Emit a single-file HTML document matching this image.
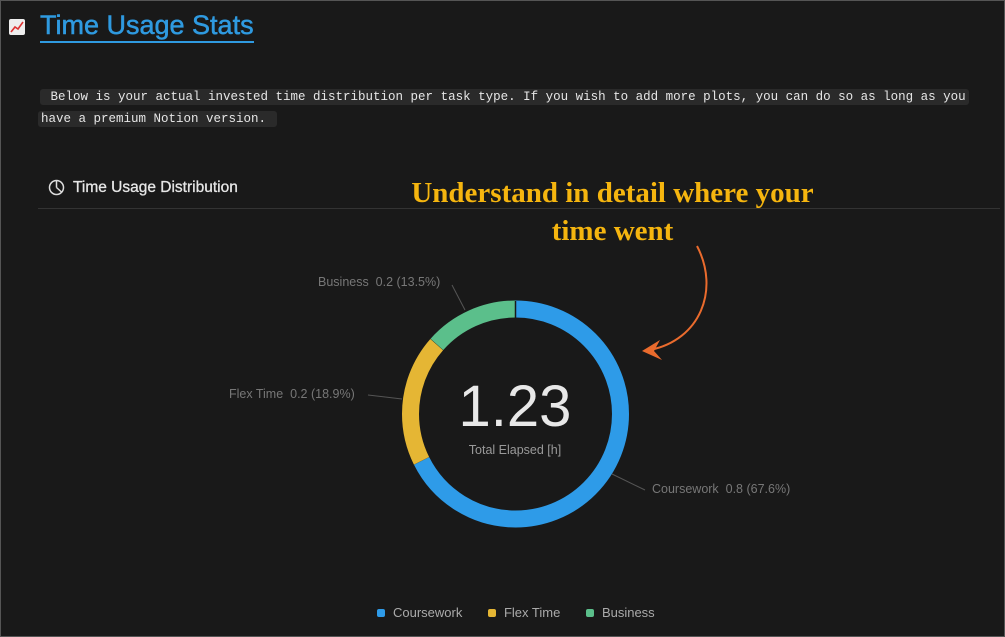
<!DOCTYPE html>
<html><head><meta charset="utf-8"><style>
html,body{margin:0;padding:0;background:#191919;}
body{width:1005px;height:637px;position:relative;overflow:hidden;font-family:"Liberation Sans",sans-serif;}
.frame{position:absolute;left:0;top:0;width:1003px;height:635px;border:1px solid #555;}
.t{position:absolute;white-space:nowrap;}
.mono{font-family:"Liberation Mono",monospace;font-size:12.5px;color:#e6e6e6;background:#2a2a2a;border-radius:3px;padding:1px 3px;}
</style></head><body>
<div class="frame"></div>
<div class="t" style="left:9px;top:19px;width:16px;height:16px;background:#eee;border-radius:2px;">
<svg width="16" height="16"><polyline points="2,13 6,8 9,10 14,3" stroke="#d33" stroke-width="1.6" fill="none"/></svg></div>
<div class="t" style="left:40px;top:10px;font-size:27px;color:#2f9ae0;border-bottom:2px solid #2f9ae0;line-height:31px;-webkit-text-stroke:0.5px #2f9ae0;">Time Usage Stats</div>
<div class="t mono" style="left:40px;top:89px;">&nbsp;Below is your actual invested time distribution per task type. If you wish to add more plots, you can do so as long as you</div>
<div class="t mono" style="left:38px;top:111px;">have a premium Notion version.&nbsp;</div>
<svg class="t" style="left:48px;top:179px" width="17" height="17"><circle cx="8.5" cy="8.5" r="7" stroke="#ddd" stroke-width="1.5" fill="none"/><path d="M8.5 8.5V1.5M8.5 8.5L13.5 13" stroke="#ddd" stroke-width="1.5"/></svg>
<div class="t" style="left:73px;top:179px;font-size:15.5px;color:#e6e6e6;-webkit-text-stroke:0.3px #e6e6e6;">Time Usage Distribution</div>
<div class="t" style="left:38px;top:208px;width:962px;height:1px;background:#333;"></div>
<div class="t" style="left:340px;top:174px;width:545px;text-align:center;font-family:'Liberation Serif',serif;font-weight:bold;font-size:29px;color:#f5b50f;line-height:38px;">Understand in detail where your<br>time went</div>
<svg class="t" style="left:0;top:0" width="1005" height="637">
<path d="M697 246 C720 290 700 340 650 350" stroke="#ea6b2d" stroke-width="2" fill="none"/>
<path d="M642 351 L660 340 L654 351 L662 360 Z" fill="#ea6b2d"/>
<g transform="rotate(-90 515.5 414)">
<circle cx="515.5" cy="414" r="105" fill="none" stroke="#2e9be8" stroke-width="17" stroke-dasharray="445.9 1000"/>
<circle cx="515.5" cy="414" r="105" fill="none" stroke="#e5b634" stroke-width="17" stroke-dasharray="0 446.1 124.3 1000"/>
<circle cx="515.5" cy="414" r="105" fill="none" stroke="#5bbf8b" stroke-width="17" stroke-dasharray="0 570.7 89.0 1000"/>
</g>
<line x1="515.5" y1="301" x2="515.5" y2="318" stroke="#191919" stroke-width="1.5"/>
<line x1="465" y1="310" x2="452" y2="285" stroke="#555" stroke-width="1"/>
<line x1="402" y1="399" x2="368" y2="395" stroke="#555" stroke-width="1"/>
<line x1="612" y1="474" x2="645" y2="490" stroke="#555" stroke-width="1"/>
</svg>
<div class="t" style="left:440px;top:372px;width:150px;text-align:center;font-size:58px;color:#e8e8e8;line-height:70px;">1.23</div>
<div class="t" style="left:440px;top:443px;width:150px;text-align:center;font-size:12.5px;color:#999;">Total Elapsed [h]</div>
<div class="t" style="left:318px;top:275px;font-size:12.5px;color:#777;">Business&nbsp; 0.2 (13.5%)</div>
<div class="t" style="left:229px;top:387px;font-size:12.5px;color:#777;">Flex Time&nbsp; 0.2 (18.9%)</div>
<div class="t" style="left:652px;top:482px;font-size:12.5px;color:#777;">Coursework&nbsp; 0.8 (67.6%)</div>
<div class="t" style="left:377px;top:605px;font-size:13px;color:#aaa;">
<span style="display:inline-block;width:8px;height:8px;background:#2e9be8;border-radius:2px;margin-right:8px;"></span>Coursework
<span style="display:inline-block;width:8px;height:8px;background:#e5b634;border-radius:2px;margin:0 8px 0 22px;"></span>Flex Time
<span style="display:inline-block;width:8px;height:8px;background:#5bbf8b;border-radius:2px;margin:0 8px 0 22px;"></span>Business
</div>
</body></html>
